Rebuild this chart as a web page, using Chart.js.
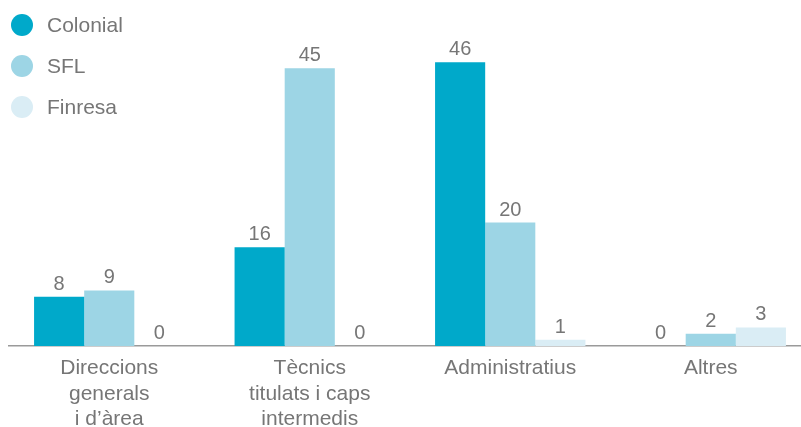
<!DOCTYPE html>
<html>
<head>
<meta charset="utf-8">
<script src="https://cdn.jsdelivr.net/npm/chart.js@4/dist/chart.umd.min.js"></script>
<style>
  html, body { margin: 0; padding: 0; background: #fff; overflow: hidden; }
  #wrap { width: 812px; height: 427px; position: relative; }
</style>
</head>
<body>
<div id="wrap"><canvas id="c"></canvas></div>
<script>
const categories = [
  ["Direccions", "generals", "i d\u2019\u00e0rea"],
  ["T\u00e8cnics", "titulats i caps", "intermedis"],
  ["Administratius"],
  ["Altres"]
];
const seriesNames = ["Colonial", "SFL", "Finresa"];
const colonial = [8, 16, 46, 0];
const sfl = [9, 45, 20, 2];
const finresa = [0, 0, 1, 3];
const colors = ["#00a9ca", "#9dd5e5", "#daedf5"];
const textColor = "#767676";
const fontFamily = "'Liberation Sans', Arial, sans-serif";

const overlay = {
  id: 'overlay',
  afterDatasetsDraw(chart) {
    const ctx = chart.ctx;
    ctx.save();
    ctx.fillStyle = textColor;
    ctx.font = "20px " + fontFamily;
    ctx.textAlign = 'center';
    ctx.textBaseline = 'alphabetic';
    chart.data.datasets.forEach((ds, di) => {
      const meta = chart.getDatasetMeta(di);
      meta.data.forEach((bar, i) => {
        ctx.fillText(String(ds.data[i]), bar.x, bar.y - 7);
      });
    });
    // legend
    ctx.font = "21px " + fontFamily;
    ctx.textAlign = 'left';
    ctx.textBaseline = 'middle';
    const ys = [25, 66, 107];
    seriesNames.forEach((name, i) => {
      ctx.beginPath();
      ctx.fillStyle = colors[i];
      ctx.arc(22, ys[i], 11, 0, Math.PI * 2);
      ctx.fill();
      ctx.fillStyle = textColor;
      ctx.fillText(name, 47, ys[i] + 1);
    });
    ctx.restore();
  }
};

new Chart(document.getElementById('c'), {
  type: 'bar',
  data: {
    labels: categories,
    datasets: [
      { label: seriesNames[0], data: colonial, backgroundColor: colors[0] },
      { label: seriesNames[1], data: sfl, backgroundColor: colors[1] },
      { label: seriesNames[2], data: finresa, backgroundColor: colors[2] }
    ]
  },
  options: {
    responsive: true,
    maintainAspectRatio: false,
    animation: false,
    layout: { padding: { left: 9, right: 1, top: 37.5, bottom: 0 } },
    plugins: { legend: { display: false }, tooltip: { enabled: false } },
    datasets: { bar: { categoryPercentage: 0.75, barPercentage: 1.0, minBarLength: 0 } },
    scales: {
      x: {
        grid: { display: false, drawTicks: false },
        border: { display: true, color: '#9a9a9a', width: 1.5 },
        ticks: {
          color: textColor,
          font: { family: fontFamily, size: 21, lineHeight: 1.2 },
          padding: 10,
          maxRotation: 0,
          autoSkip: false
        },
        afterFit(scale) { scale.height = 81; }
      },
      y: {
        display: false,
        min: 0,
        max: 50
      }
    }
  },
  plugins: [overlay]
});
</script>
</body>
</html>
